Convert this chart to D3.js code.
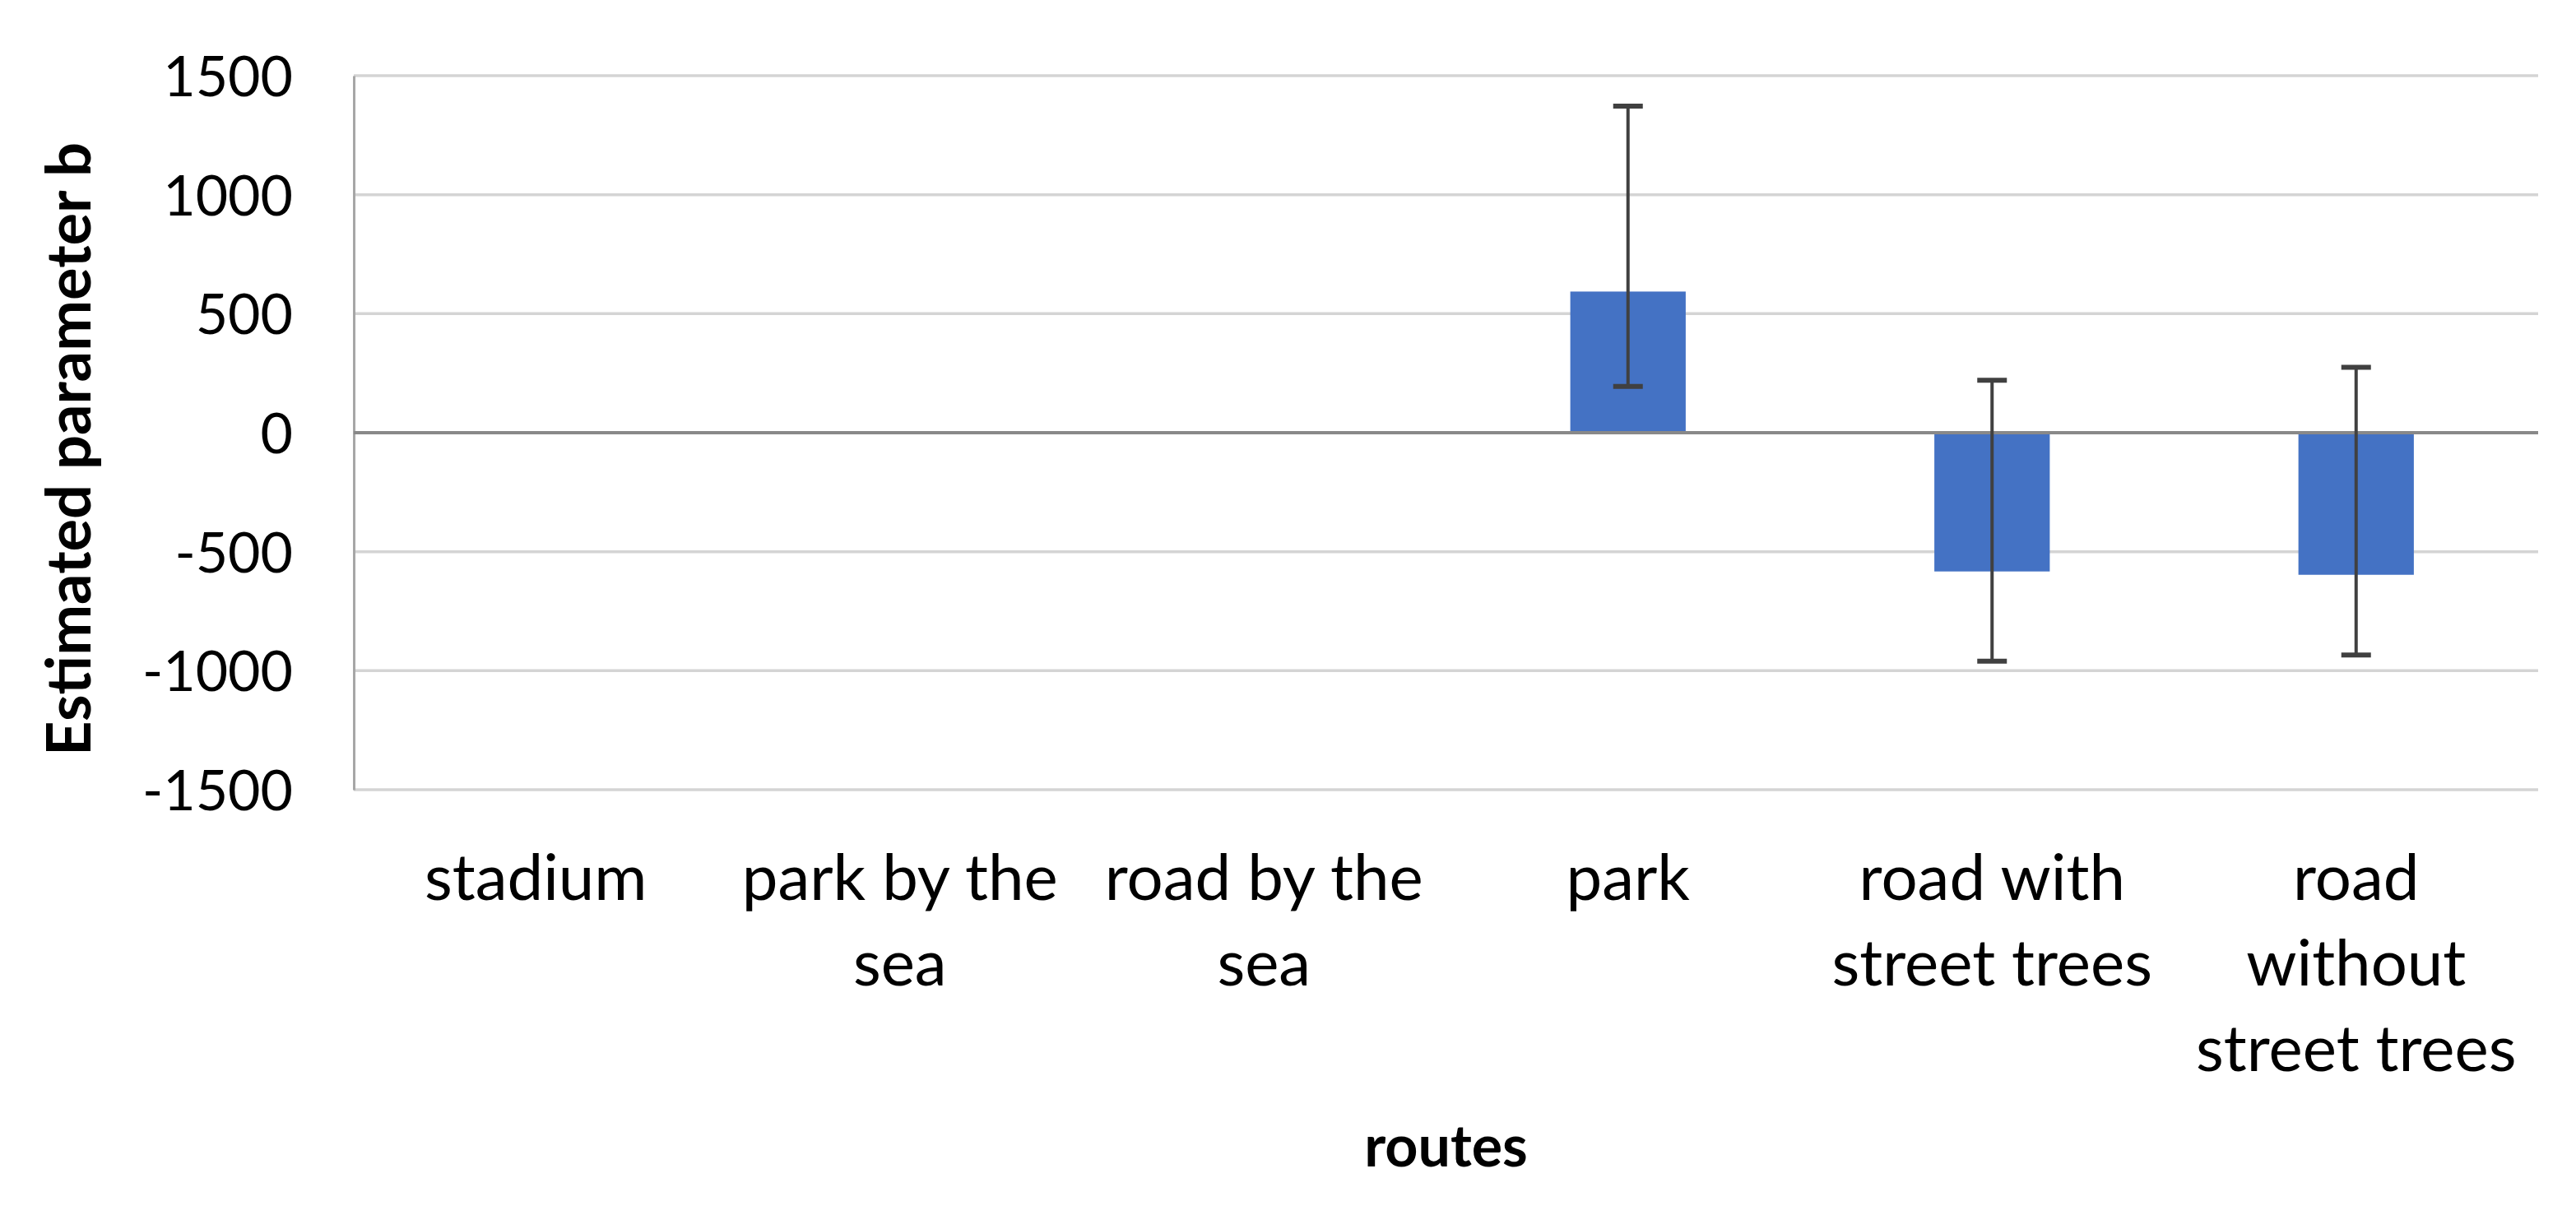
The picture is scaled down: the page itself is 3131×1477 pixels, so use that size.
<!DOCTYPE html>
<html><head><meta charset="utf-8">
<script src="https://cdn.jsdelivr.net/npm/d3@7"></script>
<style>html,body{margin:0;padding:0;background:#fff;}</style>
</head><body>
<svg id="chart" width="3131" height="1477"></svg>
<script>
const categories = ["stadium","park by the sea","road by the sea","park","road with street trees","road without street trees"];
const tickLabels = [["stadium"],["park by the","sea"],["road by the","sea"],["park"],["road with","street trees"],["road","without","street trees"]];
const values = [null, null, null, 593, -583, -597];
const errLow = [null, null, null, 194, -960, -934];
const errHigh = [null, null, null, 1372, 220, 275];
const yTicks = [-1500,-1000,-500,0,500,1000,1500];
const yTitle = "Estimated parameter b";
const xTitle = "routes";

const svg = d3.select("#chart");
const L = 430, R = 3085, T = 92, B = 960;
const x = d3.scaleBand().domain(categories).range([L, R]).paddingInner(0.683).paddingOuter(0.3415);
const y = d3.scaleLinear().domain([-1500, 1500]).range([B, T]);

// gridlines
svg.append("g").selectAll("line").data(yTicks.filter(d => d !== 0)).join("line")
  .attr("x1", L).attr("x2", R).attr("y1", d => y(d)).attr("y2", d => y(d))
  .attr("stroke", "#d4d4d4").attr("stroke-width", 3.5);

// y axis
const yAxis = d3.axisLeft(y).tickValues(yTicks).tickSize(0).tickPadding(74).tickFormat(d => String(d));
const gy = svg.append("g").attr("transform", `translate(${L},0)`).call(yAxis);
gy.select(".domain").attr("stroke", "#a6a6a6").attr("stroke-width", 3);
gy.selectAll("text").attr("font-family", "Lato").attr("font-size", 68).attr("fill", "#000").attr("dy", "0.36em");

// bars
const bw = x.bandwidth();
const idx = categories.map((c, i) => i).filter(i => values[i] !== null);
svg.append("g").selectAll("rect").data(idx).join("rect")
  .attr("x", i => x(categories[i]))
  .attr("width", bw)
  .attr("y", i => y(Math.max(0, values[i])))
  .attr("height", i => Math.abs(y(values[i]) - y(0)))
  .attr("fill", "#4472c4");

// zero line
svg.append("line").attr("x1", L).attr("x2", R).attr("y1", y(0)).attr("y2", y(0))
  .attr("stroke", "#898989").attr("stroke-width", 4);

// error bars
const eg = svg.append("g").attr("stroke", "#404040").attr("stroke-width", 4);
idx.forEach(i => {
  const cx = x(categories[i]) + bw / 2;
  eg.append("line").attr("x1", cx).attr("x2", cx).attr("y1", y(errLow[i])).attr("y2", y(errHigh[i]));
  [errLow[i], errHigh[i]].forEach(v => {
    eg.append("line").attr("x1", cx - 18).attr("x2", cx + 18).attr("y1", y(v)).attr("y2", y(v)).attr("stroke-width", 6);
  });
});

// x labels
const xl = svg.append("g").attr("font-family", "Lato").attr("font-size", 78).attr("fill", "#000").attr("text-anchor", "middle");
categories.forEach((c, i) => {
  const cx = x(c) + bw / 2;
  const t = xl.append("text").attr("x", cx).attr("y", 1094);
  tickLabels[i].forEach((ln, k) => {
    t.append("tspan").attr("x", cx).attr("y", 1094 + k * 104).text(ln);
  });
});

// titles
svg.append("text").attr("x", (L + R) / 2).attr("y", 1418).attr("text-anchor", "middle")
  .attr("font-family", "Lato").attr("font-weight", "bold").attr("font-size", 70).text(xTitle);
svg.append("text").attr("transform", `translate(110,${(T + B) / 2 + 20}) rotate(-90)`).attr("text-anchor", "middle")
  .attr("font-family", "Lato").attr("font-weight", "bold").attr("font-size", 74).text(yTitle);
</script>
</body></html>
